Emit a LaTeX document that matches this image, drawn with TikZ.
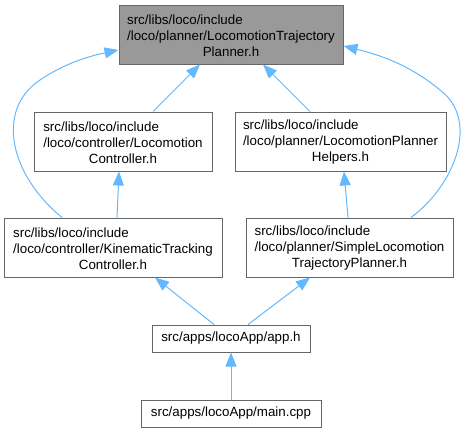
\documentclass[tikz,border=0pt]{standalone}
\usepackage{fontspec}
\setmainfont{Liberation Sans}
\usepackage{tikz}
\usetikzlibrary{arrows.meta}

\definecolor{edgeblue}{HTML}{63B8FF}
\definecolor{boxline}{HTML}{666666}
\definecolor{topfill}{HTML}{999999}

% three-line file name: two left-aligned lines, last one centred
\newcommand{\fpath}[3]{\begin{tabular}[b]{@{}l@{}}#1\\#2\end{tabular}\\#3}

\begin{document}
\begin{tikzpicture}[
                x=0.75pt, y=-0.75pt,
                >={Triangle[length=10.5pt, width=8.25pt]},
                box/.style={draw=boxline, fill=white, rectangle, align=center, inner sep=0pt, line width=0.75pt, font=\fontsize{10}{12}\selectfont},
                topbox/.style={box, fill=topfill},
                edge/.style={->, draw=edgeblue, line width=0.75pt}
            ]
            \useasboundingbox (0,0) rectangle (474,432);
            % Nodes
            \node[topbox, minimum width=168pt, minimum height=44.25pt] (traj) at (231, 34.5) {\fpath{src/libs/loco/include}{/loco/planner/LocomotionTrajectory}{Planner.h}};
            \node[box, minimum width=133.5pt, minimum height=44.25pt] (lococtrl) at (123, 141.5) {\fpath{src/libs/loco/include}{/loco/controller/Locomotion}{Controller.h}};
            \node[box, minimum width=158.25pt, minimum height=44.25pt] (helpers) at (340.5, 141.5) {\fpath{src/libs/loco/include}{/loco/planner/LocomotionPlanner}{Helpers.h}};
            \node[box, minimum width=163.5pt, minimum height=44.25pt] (kinctrl) at (113, 247.5) {\fpath{src/libs/loco/include}{/loco/controller/KinematicTracking}{Controller.h}};
            \node[box, minimum width=155.25pt, minimum height=44.25pt] (simple) at (349.5, 247.5) {\fpath{src/libs/loco/include}{/loco/planner/SimpleLocomotion}{TrajectoryPlanner.h}};
            \node[box, minimum width=118.5pt, minimum height=20.25pt] (app) at (231, 338.5) {src/apps/locoApp/app.h};
            \node[box, minimum width=135pt, minimum height=20.25pt] (main) at (231, 413.5) {src/apps/locoApp/main.cpp};

            % Edges
            \draw[edge] ([xshift=22.5pt]lococtrl.north) -- ([xshift=-23.25pt]traj.south);
            \draw[edge] ([xshift=-22.9pt]helpers.north) -- ([xshift=24pt]traj.south);
            \draw[edge] ([xshift=-38.25pt]kinctrl.north) .. controls (10,175) and (-5,110) .. (40,80) .. controls (65,63) and (90,56) .. ([yshift=-11.6pt]traj.west);
            \draw[edge] ([xshift=46.1pt]simple.north) .. controls (455,185) and (480,120) .. (440,90) .. controls (410,65) and (380,55) .. ([yshift=-8.6pt]traj.east);
            \draw[edge] ([xshift=3pt]kinctrl.north) -- ([xshift=-3pt]lococtrl.south);
            \draw[edge] ([xshift=-1.1pt]simple.north) -- ([xshift=2.6pt]helpers.south);
            \draw[edge] ([xshift=-12.75pt]app.north) -- ([xshift=31.5pt]kinctrl.south);
            \draw[edge] ([xshift=12.75pt]app.north) -- ([xshift=-29.6pt]simple.south);
            \draw[edge] (main) -- (app);
            \end{tikzpicture}
\end{document}
